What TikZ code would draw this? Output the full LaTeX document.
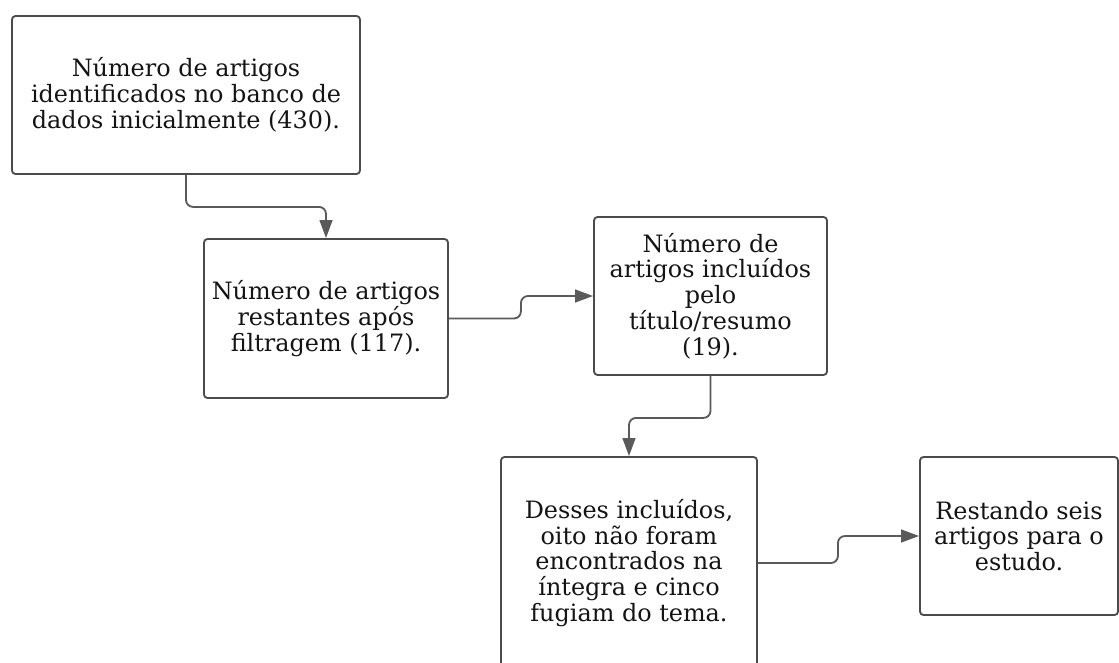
\documentclass[tikz,border=0pt]{standalone}
\usepackage{fontspec}
\setmainfont{DejaVu Serif}
\usetikzlibrary{arrows.meta}
\definecolor{boxdark}{RGB}{75,75,75}
\definecolor{linkgray}{RGB}{90,90,90}
\definecolor{textdark}{RGB}{20,20,20}

\begin{document}
\begin{tikzpicture}[
    stage/.style={
        draw=boxdark,
        line width=1.3pt,
        rounded corners=2.5pt,
        align=center,
        text=textdark,
        inner sep=0pt,
        font=\fontsize{17}{18.3}\selectfont
    },
    arrow/.style={
        -{Triangle[length=4.5mm, width=3.2mm]},
        line width=1.3pt,
        rounded corners=5pt,
        draw=linkgray
    }
]
\clip (0,0) rectangle (27.975,-16.575);

% =================== Stage 1: identified ===================
\node[stage, minimum width=8.7cm, minimum height=3.95cm] (found)
    at (4.65,-2.375) {Número de artigos\\identificados no banco de\\dados inicialmente (430).};

% =================== Stage 2: after filtering ===================
\node[stage, minimum width=6.1cm, minimum height=3.975cm] (filtered)
    at (8.15,-7.9625) {Número de artigos\\restantes após\\filtragem (117).};

% =================== Stage 3: by title/abstract ===================
\node[stage, minimum width=5.825cm, minimum height=3.95cm] (included)
    at (17.7625,-7.4) {Número de\\artigos incluídos\\pelo\\título/resumo\\(19).};

% =================== Stage 4: excluded ===================
\node[stage, minimum width=6.4cm, minimum height=5.3cm] (dropped)
    at (15.725,-14.075) {Desses incluídos,\\oito não foram\\encontrados na\\íntegra e cinco\\fugiam do tema.};

% =================== Stage 5: remaining ===================
\node[stage, minimum width=4.95cm, minimum height=3.95cm] (kept)
    at (25.475,-13.4) {Restando seis\\artigos para o\\estudo.};

% Arrows
\draw[arrow] (found.south) -- ++(0,-0.8) -| (filtered.north);
\draw[arrow] (filtered.east) -- ++(1.8,0) |- (included.west);
\draw[arrow] (included.south) -- ++(0,-1.05) -| (dropped.north);
\draw[arrow] (dropped.east) -- ++(2.0,0) |- (kept.west);

\end{tikzpicture}
\end{document}
